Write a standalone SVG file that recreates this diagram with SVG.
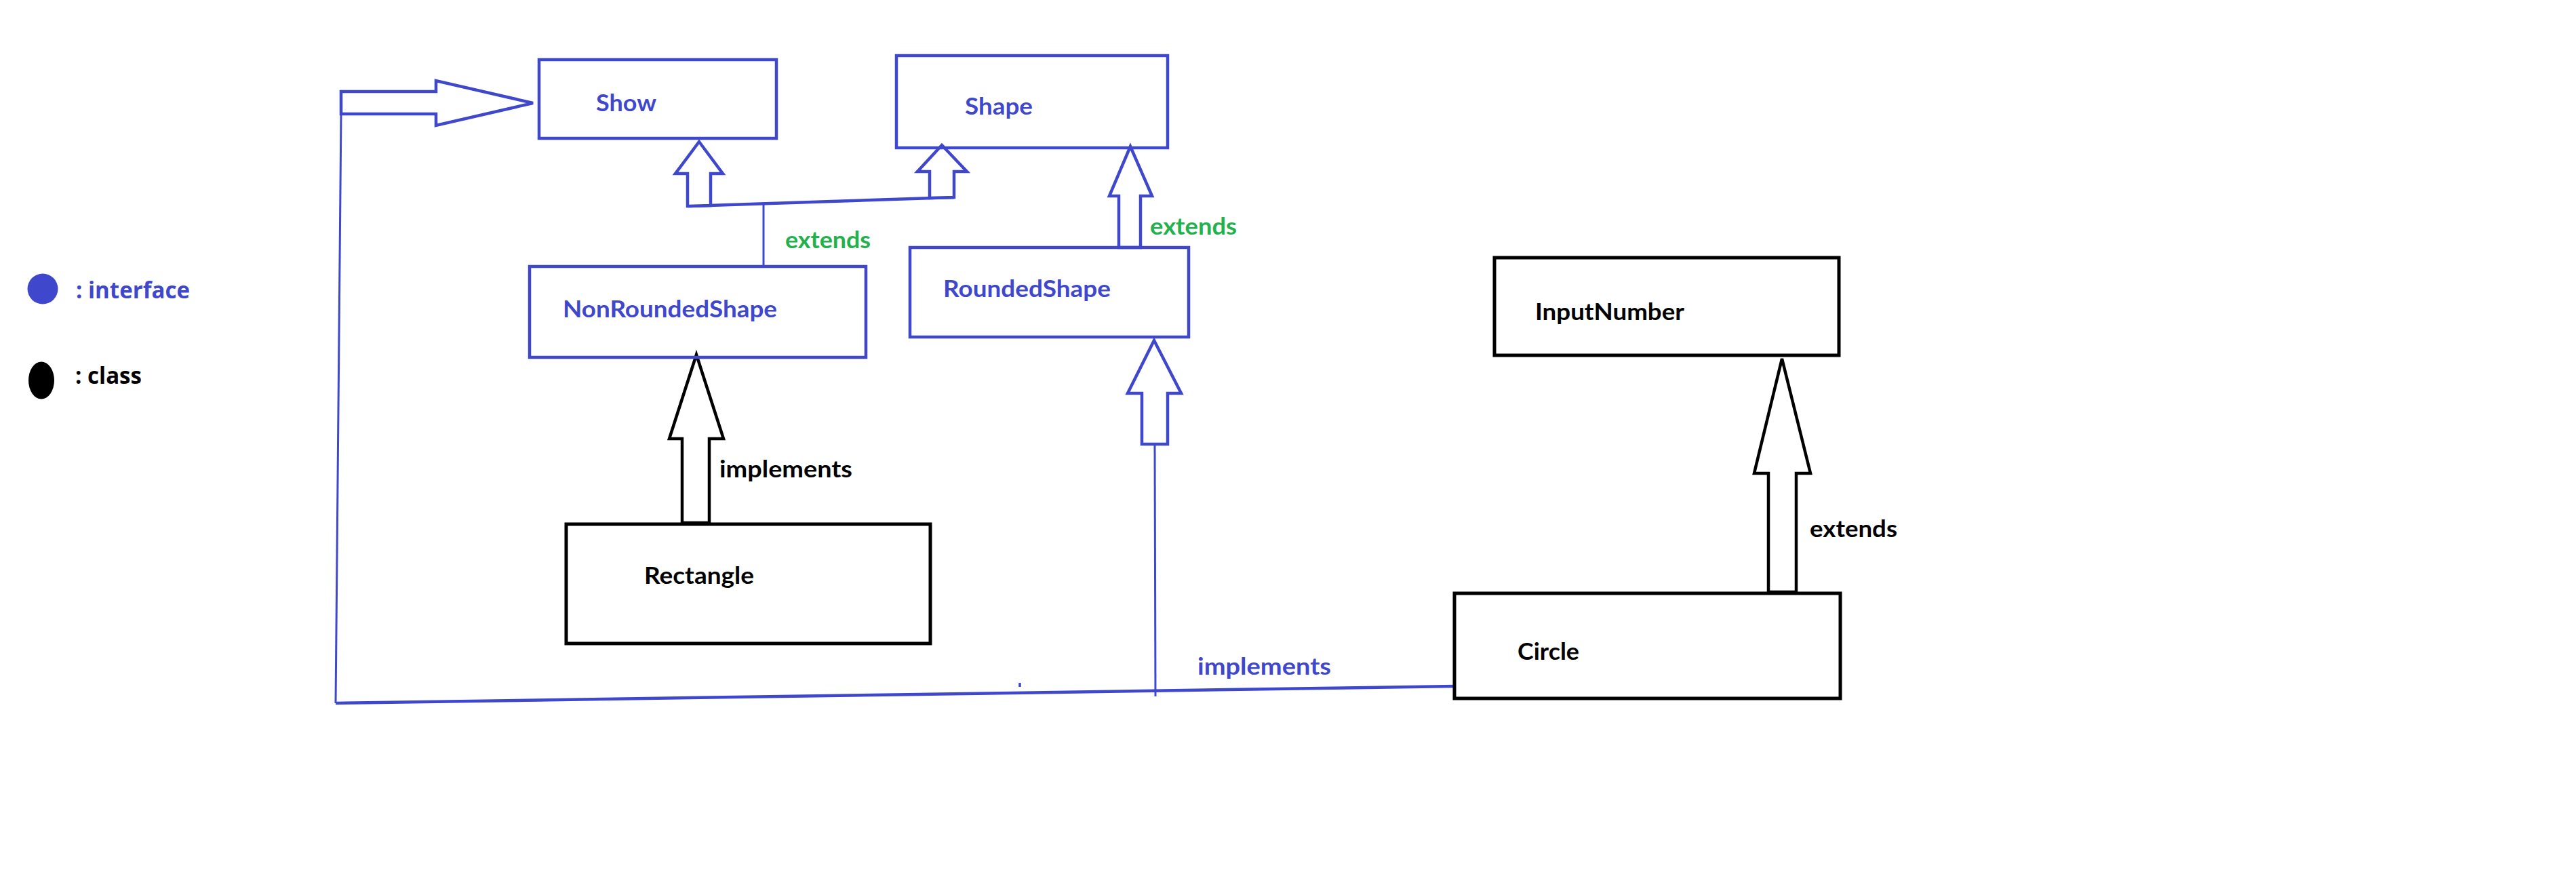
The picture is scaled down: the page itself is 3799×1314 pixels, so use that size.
<svg xmlns="http://www.w3.org/2000/svg" width="3799" height="1314" viewBox="0 0 3799 1314">
<style>
.bg{fill:#ffffff}
.ibox{fill:none;stroke:#3F48CC;stroke-width:4.5}
.cbox{fill:none;stroke:#000000;stroke-width:5}
.barrow{fill:#ffffff;stroke:#3F48CC;stroke-width:4.5;stroke-linejoin:miter}
.karrow{fill:#ffffff;stroke:#000000;stroke-width:4.5;stroke-linejoin:miter}
.bline{fill:none;stroke:#3F48CC;stroke-width:4.5;stroke-linecap:butt}
.thin{fill:none;stroke:#3F48CC;stroke-width:3}
.lbl{font-family:Lato,"Liberation Sans",sans-serif;font-weight:700;font-size:35px}
.leg{font-family:"Open Sans","Liberation Sans",sans-serif;font-weight:700;font-size:34px}
.blue{fill:#3F48CC}
.black{fill:#000000}
.green{fill:#22B14C}
</style>
<rect class="bg" x="0" y="0" width="3799" height="1314"/>

<g id="legend">
  <circle cx="63" cy="426" r="22.5" fill="#3F48CC"/>
  <text class="leg blue" x="112" y="440" textLength="168" lengthAdjust="spacingAndGlyphs">: interface</text>
  <ellipse cx="61" cy="561" rx="19" ry="27.5" fill="#000000"/>
  <text class="leg black" x="111" y="566" textLength="98" lengthAdjust="spacingAndGlyphs">: class</text>
</g>

<g id="connectors">
  <!-- Circle implements Show (path round the left) -->
  <line class="bline" x1="2147" y1="1012" x2="495" y2="1037"/>
  <polyline class="thin" points="495,1037 503,168"/>
  <polygon class="barrow" points="503,135 643,135 643,119 786,152 643,185 643,168 503,168"/>
  <!-- Circle implements RoundedShape -->
  <line class="thin" x1="1704" y1="1027" x2="1703" y2="655"/>
  <polygon class="barrow" points="1702,502 1742,580 1722,580 1722,655 1684,655 1684,580 1663,580"/>
  <line x1="1504" y1="1007" x2="1504" y2="1013" stroke="#3F48CC" stroke-width="3.5"/>
  <!-- NonRoundedShape extends Show and Shape -->
  <line class="thin" x1="1126" y1="395" x2="1126" y2="300"/>
  <line class="bline" x1="1014" y1="304" x2="1407" y2="291"/>
  <polygon class="barrow" points="1031,209 1066,256 1048,256 1048,303 1014,304 1014,256 996,256"/>
  <polygon class="barrow" points="1389,214 1426,253 1407,253 1407,291 1371,292 1371,253 1353,253"/>
  <!-- RoundedShape extends Shape -->
  <polygon class="barrow" points="1667,216 1699,289 1682,289 1682,365 1650,365 1650,289 1636,289"/>
  <!-- Rectangle implements NonRoundedShape -->
  <polygon class="karrow" points="1027,523 1067,647 1046,647 1046,771 1006,771 1006,647 987,647"/>
  <!-- Circle extends InputNumber -->
  <polygon class="karrow" points="2628,529 2670,698 2649,698 2649,873 2608,873 2608,698 2587,698"/>
  <text class="lbl green" x="1158" y="366" textLength="126" lengthAdjust="spacingAndGlyphs">extends</text>
  <text class="lbl green" x="1696" y="346" textLength="128" lengthAdjust="spacingAndGlyphs">extends</text>
  <text class="lbl black" x="1061" y="704" textLength="196" lengthAdjust="spacingAndGlyphs">implements</text>
  <text class="lbl black" x="2669" y="792" textLength="129" lengthAdjust="spacingAndGlyphs">extends</text>
  <text class="lbl blue" x="1766" y="995" textLength="197" lengthAdjust="spacingAndGlyphs">implements</text>
</g>

<g id="Show">
  <rect class="ibox" x="795" y="88" width="350" height="116"/>
  <text class="lbl blue" x="879" y="164" textLength="89" lengthAdjust="spacingAndGlyphs">Show</text>
</g>
<g id="Shape">
  <rect class="ibox" x="1322" y="82" width="400" height="136"/>
  <text class="lbl blue" x="1423" y="169" textLength="100" lengthAdjust="spacingAndGlyphs">Shape</text>
</g>
<g id="NonRoundedShape">
  <rect class="ibox" x="781" y="393" width="496" height="134"/>
  <text class="lbl blue" x="830" y="468" textLength="316" lengthAdjust="spacingAndGlyphs">NonRoundedShape</text>
</g>
<g id="RoundedShape">
  <rect class="ibox" x="1342" y="365" width="411" height="132"/>
  <text class="lbl blue" x="1391" y="438" textLength="247" lengthAdjust="spacingAndGlyphs">RoundedShape</text>
</g>
<g id="InputNumber">
  <rect class="cbox" x="2204" y="380" width="508" height="144"/>
  <text class="lbl black" x="2264" y="472" textLength="220" lengthAdjust="spacingAndGlyphs">InputNumber</text>
</g>
<g id="Rectangle">
  <rect class="cbox" x="835" y="773" width="537" height="176"/>
  <text class="lbl black" x="950" y="861" textLength="162" lengthAdjust="spacingAndGlyphs">Rectangle</text>
</g>
<g id="Circle">
  <rect class="cbox" x="2145" y="875" width="569" height="155"/>
  <text class="lbl black" x="2238" y="973" textLength="91" lengthAdjust="spacingAndGlyphs">Circle</text>
</g>
</svg>
